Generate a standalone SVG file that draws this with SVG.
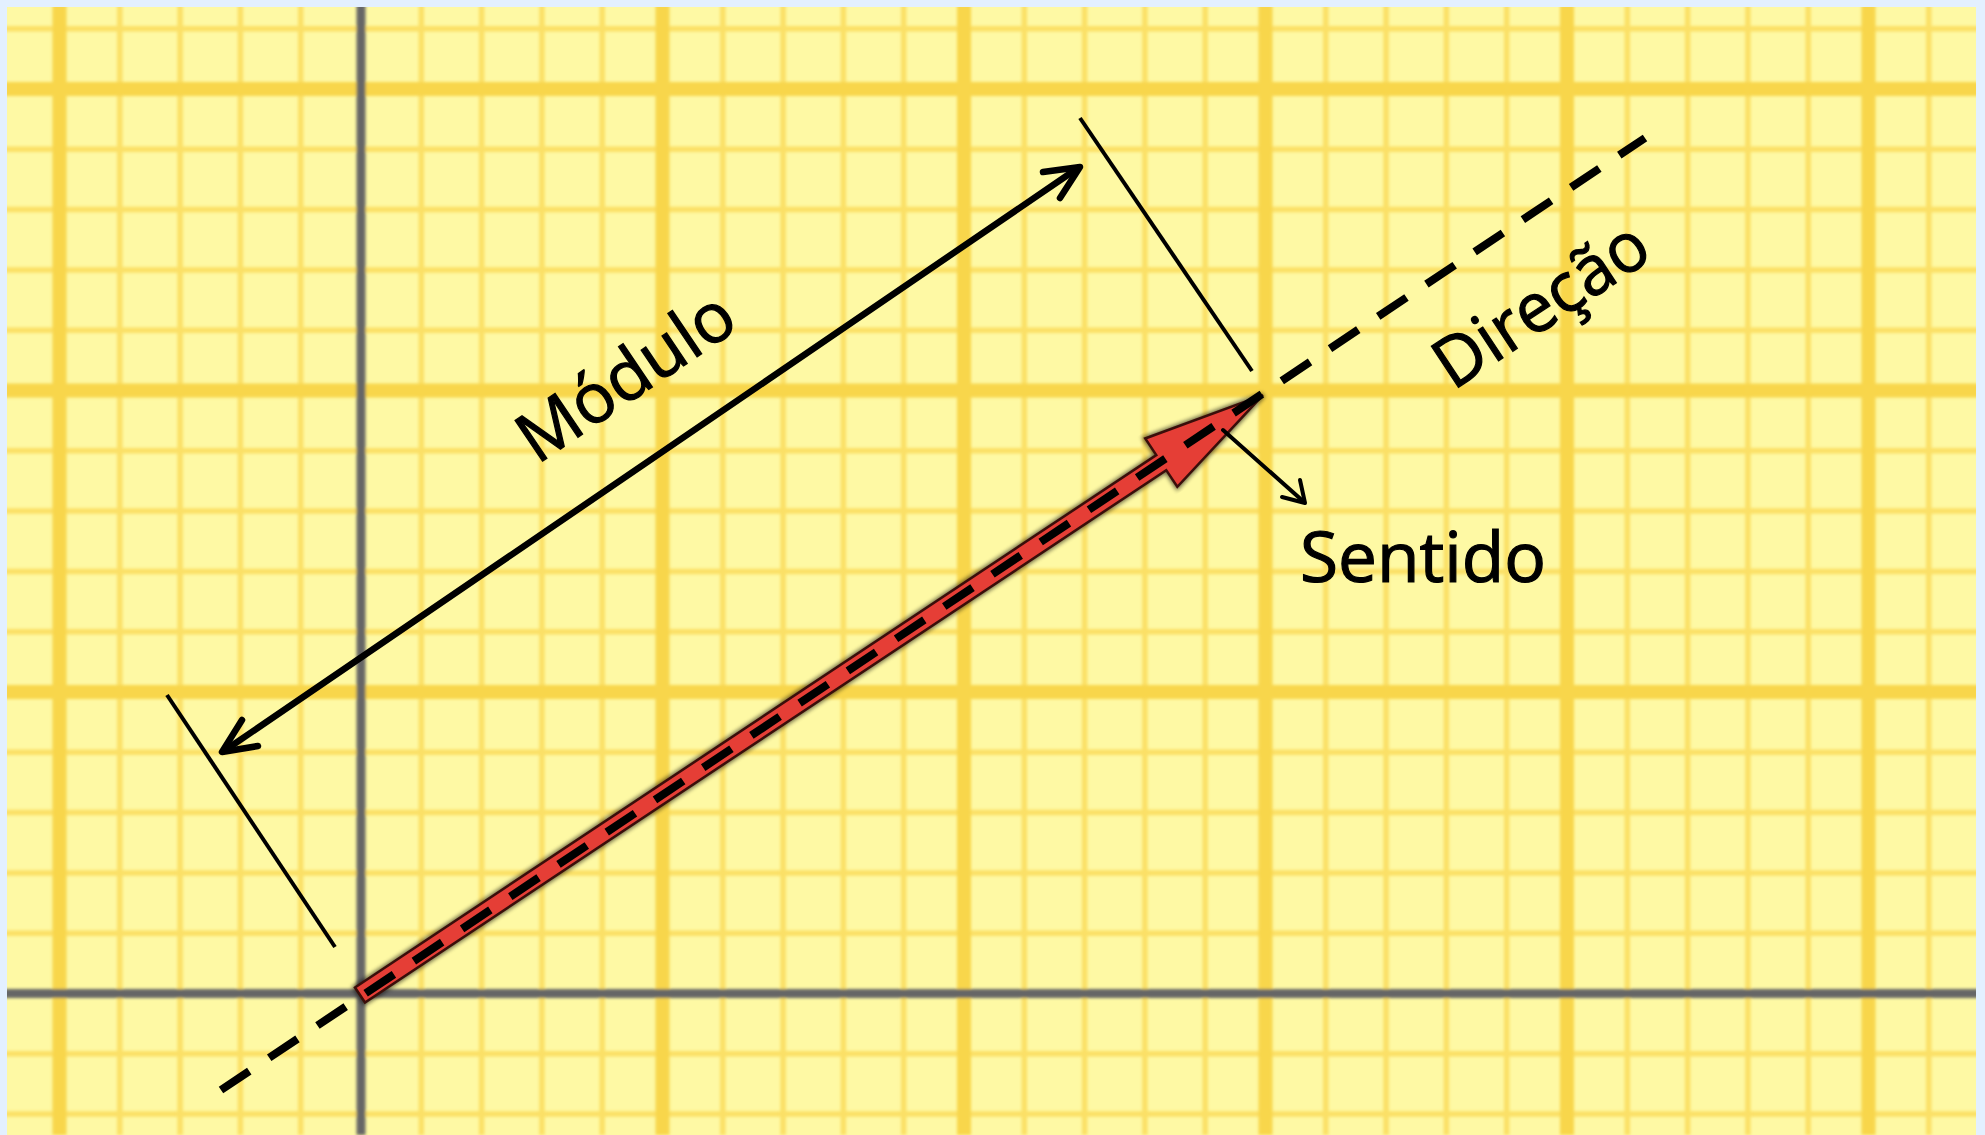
<svg xmlns="http://www.w3.org/2000/svg" width="1985" height="1135" viewBox="0 0 1985 1135">
  <style>
    .lbl { font-family: "Open Sans", "Noto Sans", "Liberation Sans", sans-serif; font-size: 69px; fill: #000; stroke: #000; stroke-width: 1.2; }
    .minor { stroke: #FBE066; stroke-width: 5.5; fill: none; }
    .major { stroke: #F8D64C; stroke-width: 14; fill: none; }
    .axis { stroke: #666666; stroke-width: 9; fill: none; }
    .blk { stroke: #000; fill: none; stroke-linecap: round; stroke-linejoin: round; }
  </style>
  <defs>
    <filter id="soft" x="-5%" y="-5%" width="110%" height="110%">
      <feGaussianBlur stdDeviation="1.6"/>
    </filter>
    <filter id="shadow" x="-10%" y="-10%" width="120%" height="120%">
      <feGaussianBlur stdDeviation="2"/>
    </filter>
    <clipPath id="paper">
      <rect x="7" y="7" width="1969" height="1128"/>
    </clipPath>
  </defs>

  <rect x="0" y="0" width="1985" height="1135" fill="#E3F0FF"/>

  <g id="grid" clip-path="url(#paper)">
    <rect x="7" y="7" width="1969" height="1128" fill="#FEF9A4"/>
    <g filter="url(#soft)">
      <path class="minor" d="M119.8 0V1135M180.1 0V1135M240.4 0V1135M300.7 0V1135M421.3 0V1135M481.6 0V1135M541.9 0V1135M602.2 0V1135M722.8 0V1135M783.1 0V1135M843.4 0V1135M903.7 0V1135M1024.3 0V1135M1084.6 0V1135M1144.9 0V1135M1205.2 0V1135M1325.8 0V1135M1386.1 0V1135M1446.4 0V1135M1506.7 0V1135M1627.3 0V1135M1687.6 0V1135M1747.9 0V1135M1808.2 0V1135M1928.8 0V1135"/>
      <path class="minor" d="M0 28.7H1985M0 149.3H1985M0 209.6H1985M0 269.9H1985M0 330.2H1985M0 450.8H1985M0 511.1H1985M0 571.4H1985M0 631.7H1985M0 752.3H1985M0 812.6H1985M0 872.9H1985M0 933.2H1985M0 1053.8H1985M0 1114.1H1985"/>
      <path class="major" d="M59.5 0V1135M662.5 0V1135M964 0V1135M1265.5 0V1135M1567 0V1135M1868.5 0V1135M0 89H1985M0 390.5H1985M0 692H1985"/>
      <path class="axis" d="M361 0V1135M0 993.5H1985"/>
    </g>
  </g>

  <g id="vector">
    <g transform="translate(360,995) rotate(-33.6)">
      <polygon points="0,-9 962,-9 962,-29 1084,0 962,29 962,9 0,9" fill="#000" stroke="#000" stroke-width="5" opacity="0.6" filter="url(#shadow)"/>
      <polygon points="0,-9 962,-9 962,-29 1084,0 962,29 962,9 0,9" fill="#E53E36" stroke="#3A0E0A" stroke-width="2.5" stroke-linejoin="miter"/>
    </g>
  </g>

  <g id="connectors">
    <line id="direction-line" x1="221" y1="1090" x2="1645" y2="138" stroke="#000" stroke-width="8" stroke-dasharray="34 24"/>
    <g id="modulo-arrow" class="blk" stroke-width="6.5">
      <line x1="224" y1="751" x2="1078" y2="168"/>
      <polyline points="1043,172 1080,167 1060,198"/>
      <polyline points="242,720 222,752 258,746"/>
    </g>
    <line id="tick-left" x1="167" y1="695" x2="335" y2="947" stroke="#000" stroke-width="4"/>
    <line id="tick-right" x1="1080" y1="118" x2="1252" y2="371" stroke="#000" stroke-width="4"/>
    <g id="sentido-arrow" class="blk" stroke-width="4">
      <line x1="1223" y1="430" x2="1304" y2="502"/>
      <polyline points="1282,497 1305,503 1300,480"/>
    </g>
  </g>

  <g id="label-modulo">
    <text class="lbl" transform="translate(537,465) rotate(-34)" textLength="246" lengthAdjust="spacingAndGlyphs">Módulo</text>
  </g>
  <g id="label-direcao">
    <text class="lbl" transform="translate(1453,391) rotate(-33.5)" textLength="242" lengthAdjust="spacingAndGlyphs">Direção</text>
  </g>
  <g id="label-sentido">
    <text class="lbl" x="1300" y="582" textLength="246" lengthAdjust="spacingAndGlyphs">Sentido</text>
  </g>
</svg>
